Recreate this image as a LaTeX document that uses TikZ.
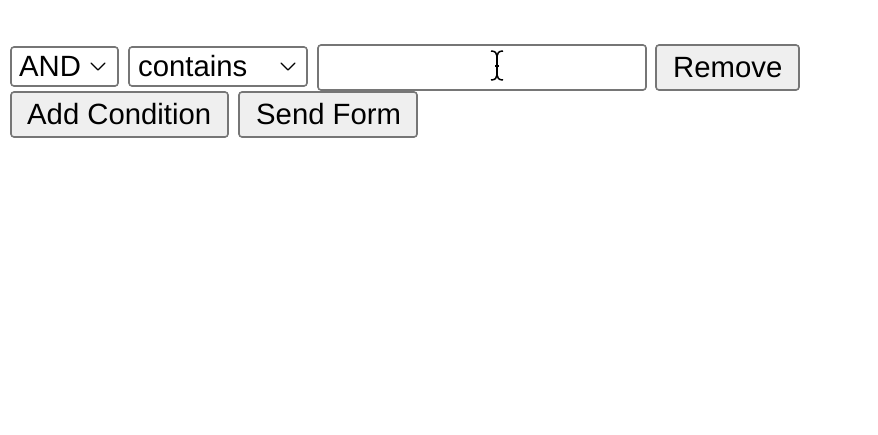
\documentclass[tikz,border=0pt]{standalone}
\usepackage{fontspec}
\setmainfont{Liberation Sans}
\definecolor{bord}{HTML}{767676}
\definecolor{btnbg}{HTML}{EFEFEF}
\tikzset{
  ctl/.style={draw=bord, line width=1.6pt, rounded corners=3pt},
  selbox/.style={ctl, fill=white},
  inbox/.style={ctl, fill=white},
  btn/.style={ctl, fill=btnbg},
  lbl/.style={font=\fontsize{29.3}{33}\selectfont, text=black, inner sep=0pt, anchor=base west},
  chev/.style={draw=black, line width=1.3pt, line cap=round, line join=round},
}
\begin{document}
\begin{tikzpicture}[x=1pt,y=-1pt]
\useasboundingbox (0,0) rectangle (878,434);
% selects
\draw[selbox] (11,47) rectangle (118,86);
\node[lbl] (and) at (19,76.5) {AND};
\draw[chev] (91,63) -- (98,70) -- (105,63);
\draw[selbox] (129,47) rectangle (307,86);
\node[lbl] (cont) at (138,76.5) {contains};
\draw[chev] (281,63) -- (288,70) -- (295,63);
% text input
\draw[inbox] (318,45) rectangle (646,90);
% I-beam cursor
\draw[line width=1.5pt] (491,51) .. controls (495,51) and (497,53) .. (497,56)
  .. controls (497,53) and (499,51) .. (503,51);
\draw[line width=1.5pt] (491,80) .. controls (495,80) and (497,78) .. (497,75)
  .. controls (497,78) and (499,80) .. (503,80);
\draw[line width=1.5pt] (497,56) -- (497,75);
\draw[line width=1.5pt] (495,66) -- (499,66);
% buttons
\draw[btn] (656,45) rectangle (799,90);
\node[lbl] (rem) at (673,77) {Remove};
\draw[btn] (11,92) rectangle (228,137);
\node[lbl] (add) at (27,124) {Add Condition};
\draw[btn] (239,92) rectangle (417,137);
\node[lbl] (send) at (256,124) {Send Form};
\end{tikzpicture}
\end{document}
